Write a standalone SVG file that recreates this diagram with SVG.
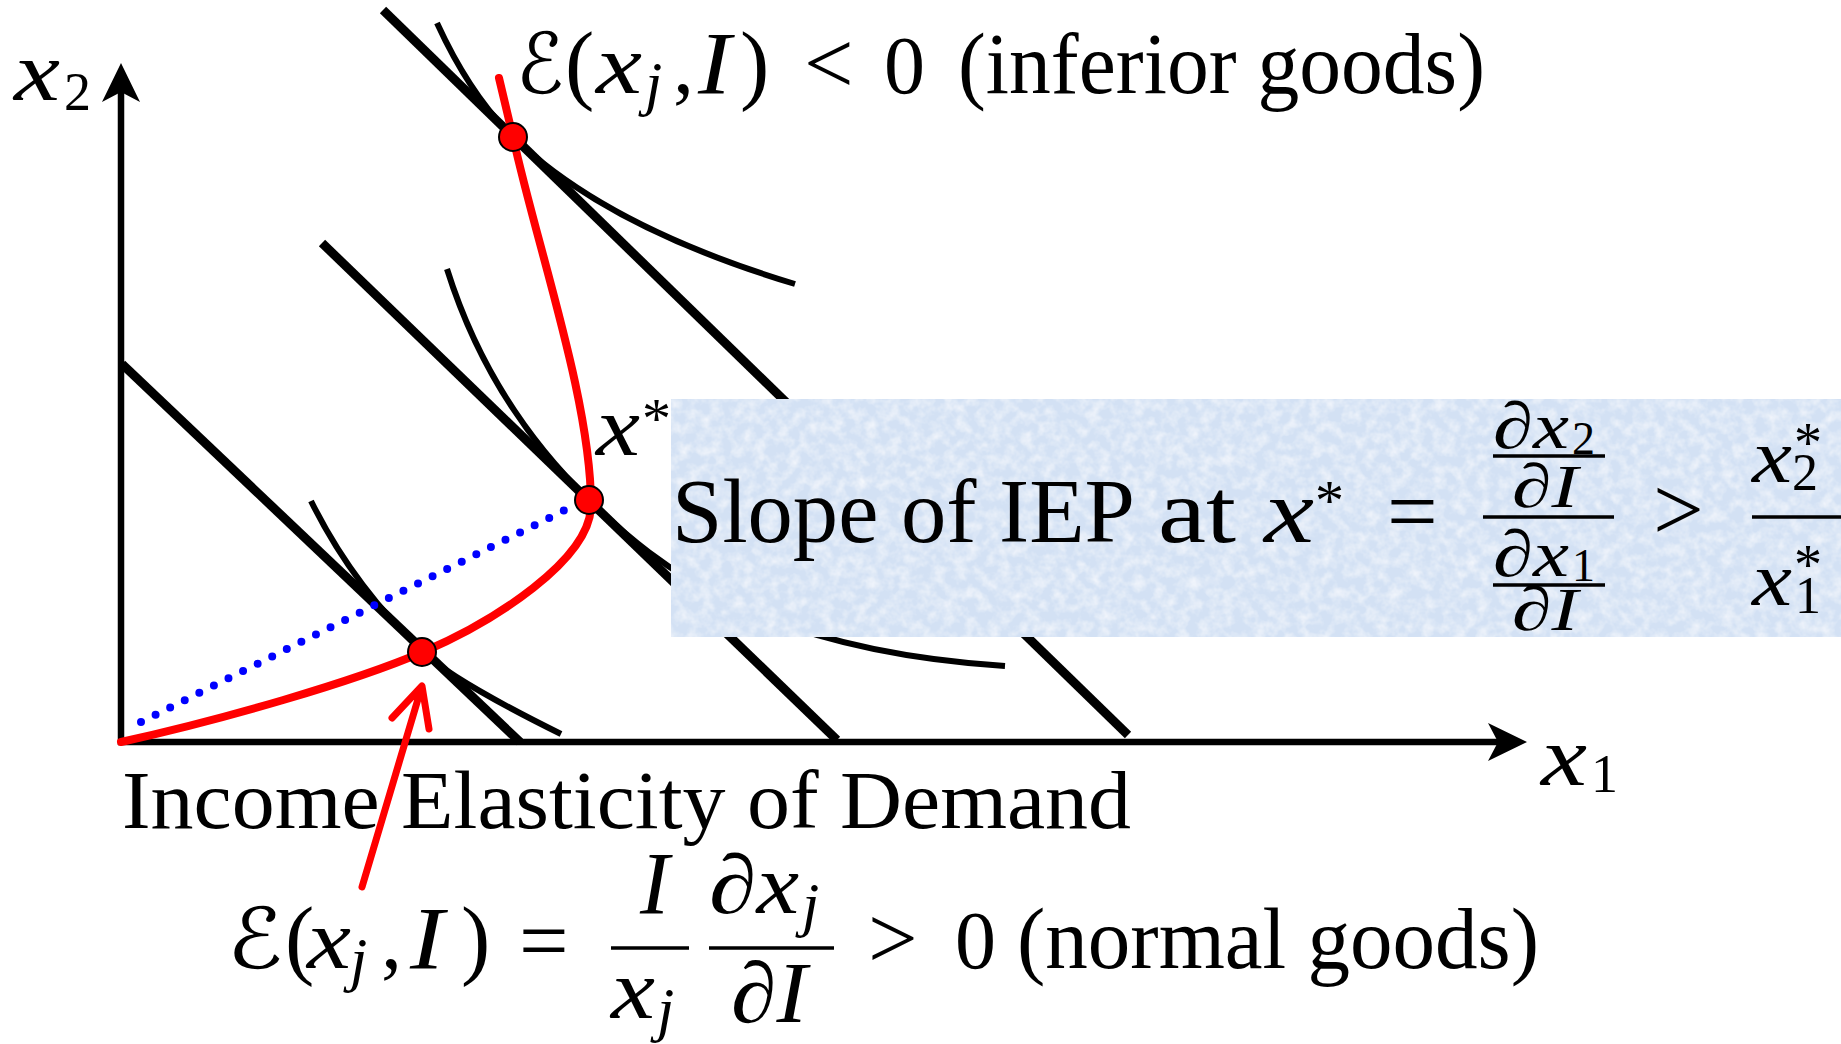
<svg xmlns="http://www.w3.org/2000/svg" width="1841" height="1044" viewBox="0 0 1841 1044">
<style>
.bl{stroke:#000;stroke-width:9;fill:none}
.ic{stroke:#000;stroke-width:6;fill:none}
.ax{stroke:#000;stroke-width:6.5;fill:none}
.red{stroke:#ff0000;stroke-width:8;fill:none;stroke-linecap:round}
.pt{fill:#ff0000;stroke:#000;stroke-width:2}
.t{font-family:"Liberation Serif","DejaVu Serif",serif;fill:#000}
.i{font-style:italic}
.cal{font-family:"DejaVu Serif","DejaVu Sans",serif;fill:#000}
.bar{stroke:#000;stroke-width:3.5}
</style>
<defs>
<filter id="tex" x="0" y="0" width="100%" height="100%">
<feTurbulence type="fractalNoise" baseFrequency="0.09" numOctaves="3" seed="7" result="n"/>
<feColorMatrix in="n" type="matrix" values="0 0 0 0 1  0 0 0 0 1  0 0 0 0 1  1.2 0 0 0 -0.45" result="w"/>
<feComposite in="w" in2="SourceGraphic" operator="atop"/>
</filter>
</defs>
<rect width="1841" height="1044" fill="#fff"/>
<g id="axes">
<line class="ax" x1="121" y1="745" x2="121" y2="90"/>
<path d="M121,63 L140,102 L121,92 L102,102 Z" fill="#000"/>
<line class="ax" x1="118" y1="742" x2="1500" y2="742"/>
<path d="M1527,742 L1488,723 L1498,742 L1488,761 Z" fill="#000"/>
</g>
<g id="connectors">
<line id="budget1" class="bl" x1="122" y1="364" x2="520" y2="742"/>
<line id="budget2" class="bl" x1="322" y1="243" x2="837" y2="740"/>
<line id="budget3" class="bl" x1="383" y1="10" x2="1128" y2="735"/>
<path id="ic1" class="ic" d="M311,501 Q353,586 423,652 Q452,680 561,734"/>
<path id="ic2" class="ic" d="M447,269 Q489,403 589,500 C659,568 760,650 1005,666"/>
<path id="ic3" class="ic" d="M437,23 Q470,95 513,137 Q606,227 795,284"/>
<line id="ray" x1="141" y1="722" x2="575" y2="505" stroke="#0000ff" stroke-width="8" stroke-linecap="round" stroke-dasharray="0 16.3"/>
<path id="iep" class="red" d="M121,742 C221,720 353,682 423,652 C493,622 591,560 591,505 C591,400 537,247 513,137 L499,78"/>
</g>
<g id="point-low"><circle class="pt" cx="422" cy="652" r="14"/></g>
<g id="point-mid"><circle class="pt" cx="589" cy="500" r="14"/></g>
<g id="point-top"><circle class="pt" cx="513" cy="137" r="14"/></g>
<g id="label-x2">
<text class="t i" x="14" y="100" font-size="84" textLength="46" lengthAdjust="spacingAndGlyphs">x</text>
<text class="t" x="64" y="110" font-size="54">2</text>
</g>
<g id="label-x1">
<text class="t i" x="1541" y="785" font-size="84" textLength="46" lengthAdjust="spacingAndGlyphs">x</text>
<text class="t" x="1591" y="792" font-size="54">1</text>
</g>
<g id="label-xstar">
<text class="t i" x="596" y="455" font-size="84" textLength="44" lengthAdjust="spacingAndGlyphs">x</text>
<text class="t" x="642" y="438" font-size="58">*</text>
</g>
<g id="label-inferior">
<text class="cal" x="516" y="93" font-size="84" textLength="48" lengthAdjust="spacingAndGlyphs">ℰ</text>
<text class="t" x="565" y="93" font-size="88">(</text>
<text class="t i" x="596" y="93" font-size="84" textLength="46" lengthAdjust="spacingAndGlyphs">x</text>
<text class="t i" x="645" y="104" font-size="62">j</text>
<text class="t" x="673" y="93" font-size="84">,</text>
<text class="t i" x="698" y="93" font-size="88" textLength="33" lengthAdjust="spacingAndGlyphs">I</text>
<text class="t" x="740" y="93" font-size="88">)</text>
<text class="t" x="804" y="93" font-size="88">&lt;</text>
<text class="t" x="884" y="93" font-size="82">0</text>
<text class="t" x="958" y="93" font-size="86" textLength="527" lengthAdjust="spacingAndGlyphs">(inferior goods)</text>
</g>
<g id="label-title">
<text class="t" x="122" y="828" font-size="82" textLength="1009" lengthAdjust="spacingAndGlyphs">Income Elasticity of Demand</text>
</g>
<g id="label-normal">
<text class="cal" x="227" y="968" font-size="84" textLength="56" lengthAdjust="spacingAndGlyphs">ℰ</text>
<text class="t" x="285" y="968" font-size="88">(</text>
<text class="t i" x="307" y="968" font-size="84" textLength="44" lengthAdjust="spacingAndGlyphs">x</text>
<text class="t i" x="350" y="980" font-size="62">j</text>
<text class="t" x="381" y="968" font-size="84">,</text>
<text class="t i" x="410" y="968" font-size="88" textLength="34" lengthAdjust="spacingAndGlyphs">I</text>
<text class="t" x="461" y="968" font-size="88">)</text>
<text class="t" x="519" y="970" font-size="88">=</text>
<text class="t i" x="640" y="913" font-size="88">I</text>
<line class="bar" x1="611" y1="948" x2="689" y2="948"/>
<text class="t i" x="611" y="1018" font-size="84" textLength="44" lengthAdjust="spacingAndGlyphs">x</text>
<text class="t i" x="657" y="1030" font-size="62">j</text>
<text class="t i" x="709" y="913" font-size="84" textLength="90" lengthAdjust="spacingAndGlyphs">∂x</text>
<text class="t i" x="802" y="925" font-size="62">j</text>
<line class="bar" x1="709" y1="948" x2="834" y2="948"/>
<text class="t i" x="731" y="1022" font-size="86" textLength="76" lengthAdjust="spacingAndGlyphs">∂I</text>
<text class="t" x="868" y="968" font-size="88">&gt;</text>
<text class="t" x="955" y="968" font-size="82">0</text>
<text class="t" x="1017" y="968" font-size="86" textLength="522" lengthAdjust="spacingAndGlyphs">(normal goods)</text>
</g>
<g id="arrow">
<path d="M362,887 L421,689 M392,718 L422,686 L429,729" fill="none" stroke="#ff0000" stroke-width="7" stroke-linecap="round" stroke-linejoin="round"/>
</g>
<g id="slope-box">
<rect x="671" y="399" width="1170" height="238" fill="#d3e1f4" filter="url(#tex)"/>
<text class="t" x="672" y="542" font-size="90" textLength="463" lengthAdjust="spacingAndGlyphs">Slope of IEP</text>
<text class="t" x="1158" y="542" font-size="92" textLength="78" lengthAdjust="spacingAndGlyphs">at</text>
<text class="t i" x="1264" y="542" font-size="90" textLength="50" lengthAdjust="spacingAndGlyphs">x</text>
<text class="t" x="1315" y="520" font-size="58">*</text>
<text class="t" x="1387" y="542" font-size="90">=</text>
<text class="t i" x="1493" y="448" font-size="66" textLength="76" lengthAdjust="spacingAndGlyphs">∂x</text>
<text class="t" x="1572" y="454" font-size="46">2</text>
<line class="bar" x1="1493" y1="456" x2="1605" y2="456"/>
<text class="t i" x="1512" y="507" font-size="62" textLength="66" lengthAdjust="spacingAndGlyphs">∂I</text>
<line class="bar" x1="1483" y1="517" x2="1614" y2="517"/>
<text class="t i" x="1493" y="576" font-size="66" textLength="76" lengthAdjust="spacingAndGlyphs">∂x</text>
<text class="t" x="1572" y="581" font-size="46">1</text>
<line class="bar" x1="1493" y1="585" x2="1605" y2="585"/>
<text class="t i" x="1512" y="630" font-size="62" textLength="66" lengthAdjust="spacingAndGlyphs">∂I</text>
<text class="t" x="1653" y="540" font-size="90">&gt;</text>
<text class="t i" x="1752" y="482" font-size="76" textLength="40" lengthAdjust="spacingAndGlyphs">x</text>
<text class="t" x="1794" y="462" font-size="56">*<tspan x="1792" y="490" font-size="52">2</tspan></text>
<line class="bar" x1="1752" y1="517" x2="1841" y2="517"/>
<text class="t i" x="1752" y="605" font-size="76" textLength="40" lengthAdjust="spacingAndGlyphs">x</text>
<text class="t" x="1794" y="584" font-size="56">*<tspan x="1795" y="613" font-size="52">1</tspan></text>
</g>
</svg>
